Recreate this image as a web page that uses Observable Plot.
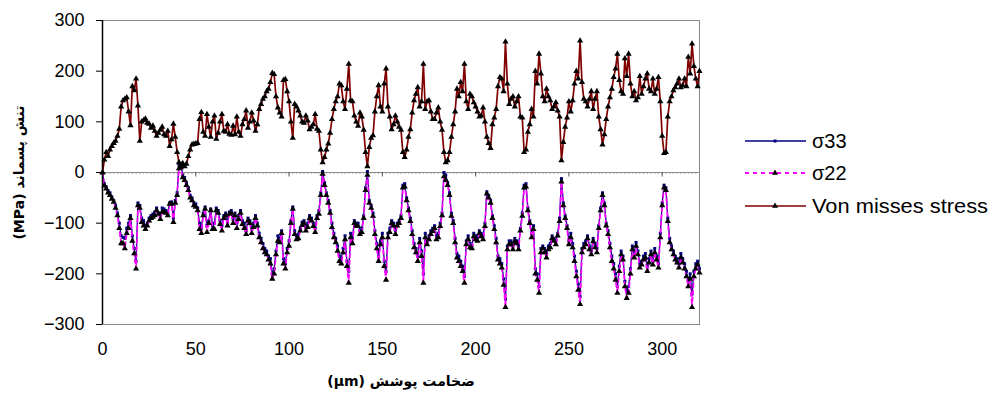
<!DOCTYPE html>
<html>
<head>
<meta charset="utf-8">
<script src="https://cdn.jsdelivr.net/npm/d3@7"></script>
<script src="https://cdn.jsdelivr.net/npm/@observablehq/plot@0.6"></script>
<style>
  html, body { margin: 0; padding: 0; background: #fff; }
  #wrap { position: relative; width: 993px; height: 400px; font-family: "Liberation Sans", Arial, "DejaVu Sans", sans-serif; }
  #legend { position: absolute; left: 740px; top: 120px; }
</style>
</head>
<body>
<div id="wrap"><div id="chart"></div><div id="legend"></div></div>
<script>
// thickness positions (µm), even readings
const thickness = [
  0,2,4,6,8,10,12,14,16,18,
  20,22,24,26,28,30,32,34,36,38,
  40,42,44,46,48,50,52,54,56,58,
  60,62,64,66,68,70,72,74,76,78,
  80,82,84,86,88,90,92,94,96,98,
  100,102,104,106,108,110,112,114,116,118,
  120,122,124,126,128,130,132,134,136,138,
  140,142,144,146,148,150,152,154,156,158,
  160,162,164,166,168,170,172,174,176,178,
  180,182,184,186,188,190,192,194,196,198,
  200,202,204,206,208,210,212,214,216,218,
  220,222,224,226,228,230,232,234,236,238,
  240,242,244,246,248,250,252,254,256,258,
  260,262,264,266,268,270,272,274,276,278,
  280,282,284,286,288,290,292,294,296,298,
  300,302,304,306,308,310,312,314,316,318,320
];
// σ33 (MPa)
const sigma33 = [
  0,-28,-40,-55,-80,-125,-130,-100,-125,-175,
  -65,-95,-100,-85,-78,-80,-70,-75,-60,-90,
  -40,18,-10,-30,-50,-62,-100,-80,-105,-72,
  -100,-75,-105,-80,-78,-92,-100,-75,-100,-90,
  -110,-85,-120,-140,-155,-170,-190,-125,-115,-180,
  -135,-68,-125,-110,-95,-100,-90,-110,-75,2,
  -40,-75,-120,-145,-170,-125,-195,-130,-100,-115,
  -85,2,-65,-115,-165,-120,-195,-110,-100,-100,
  -85,-22,-70,-115,-150,-130,-200,-135,-115,-105,
  -120,-80,-5,-40,-95,-160,-175,-205,-125,-145,
  -125,-115,-125,-38,-55,-105,-165,-180,-250,-135,
  -145,-135,-110,-25,-70,-120,-190,-225,-145,-160,
  -140,-130,-120,-12,-85,-135,-140,-195,-245,-140,
  -125,-155,-140,-105,-40,-100,-140,-180,-225,-155,
  -215,-225,-145,-138,-180,-165,-185,-155,-150,-180,
  -60,-30,-130,-155,-170,-160,-180,-215,-240,-180,-190
];
// σ22 (MPa)
const sigma22 = [
  0,-32,-45,-58,-85,-140,-150,-110,-135,-190,
  -70,-105,-105,-90,-85,-82,-78,-80,-62,-98,
  -45,10,-15,-35,-55,-68,-112,-85,-118,-75,
  -112,-80,-115,-85,-82,-100,-110,-80,-110,-95,
  -120,-90,-128,-150,-162,-180,-200,-135,-120,-190,
  -145,-72,-132,-115,-100,-108,-95,-118,-82,-3,
  -45,-80,-128,-155,-180,-132,-218,-140,-105,-122,
  -90,-5,-70,-122,-175,-128,-212,-118,-105,-105,
  -90,-28,-75,-122,-158,-138,-218,-142,-122,-110,
  -128,-85,-15,-45,-100,-168,-185,-218,-132,-150,
  -132,-120,-132,-42,-60,-112,-172,-188,-266,-142,
  -152,-140,-115,-30,-75,-128,-200,-238,-150,-168,
  -148,-135,-125,-18,-90,-142,-148,-205,-260,-148,
  -130,-162,-148,-110,-45,-105,-148,-190,-238,-162,
  -225,-238,-152,-145,-188,-172,-195,-162,-158,-188,
  -65,-35,-138,-162,-178,-168,-190,-225,-266,-190,-198
];
// Von Mises stress (MPa)
const vonMises = [
  0,40,45,58,72,130,145,120,170,185,
  62,103,98,88,82,78,90,72,52,96,
  40,15,12,32,55,57,105,80,115,70,
  112,78,115,80,76,92,110,72,105,88,
  118,82,125,145,160,178,194,128,110,184,
  140,68,130,112,98,102,90,115,82,20,
  45,78,125,150,172,125,214,140,100,118,
  84,12,68,120,172,120,205,110,95,100,
  84,30,70,118,155,130,214,140,120,105,
  128,84,20,40,95,165,178,214,125,150,
  130,110,128,70,48,108,170,185,258,135,
  150,140,110,40,80,125,200,234,150,165,
  142,130,122,24,90,140,142,200,260,145,
  130,160,145,110,55,105,148,188,234,160,
  225,234,150,142,190,170,195,160,155,188,
  72,40,140,162,175,168,185,228,254,185,200
];
// odd readings (µm)
const thicknessOdd = [
  1,3,5,7,9,11,13,15,17,19,
  21,23,25,27,29,31,33,35,37,39,
  41,43,45,47,49,51,53,55,57,59,
  61,63,65,67,69,71,73,75,77,79,
  81,83,85,87,89,91,93,95,97,99,
  101,103,105,107,109,111,113,115,117,119,
  121,123,125,127,129,131,133,135,137,139,
  141,143,145,147,149,151,153,155,157,159,
  161,163,165,167,169,171,173,175,177,179,
  181,183,185,187,189,191,193,195,197,199,
  201,203,205,207,209,211,213,215,217,219,
  221,223,225,227,229,231,233,235,237,239,
  241,243,245,247,249,251,253,255,257,259,
  261,263,265,267,269,271,273,275,277,279,
  281,283,285,287,289,291,293,295,297,299,
  301,303,305,307,309,311,313,315,317,319
];
const sigma33Odd = [
  -22,-36,-48,-65,-100,-128,-110,-85,-150,-60,
  -90,-105,-90,-82,-70,-85,-72,-80,-58,-55,
  15,-5,-20,-45,-60,-70,-110,-68,-95,-105,
  -70,-95,-85,-98,-75,-80,-85,-95,-115,-95,
  -100,-100,-130,-150,-165,-200,-155,-130,-170,-150,
  -95,-115,-122,-98,-108,-85,-100,-85,-40,-20,
  -55,-100,-130,-165,-150,-175,-120,-95,-100,-110,
  -30,-55,-80,-140,-135,-175,-120,-95,-115,-95,
  -25,-50,-90,-140,-165,-155,-120,-125,-110,-125,
  -100,0,-20,-80,-130,-165,-185,-135,-140,-120,
  -128,-120,-100,-45,-85,-130,-170,-210,-145,-135,
  -130,-145,-80,-22,-95,-105,-200,-150,-150,-145,
  -125,-135,-90,-60,-105,-120,-165,-220,-150,-135,
  -145,-130,-150,-70,-60,-115,-165,-200,-185,-165,
  -235,-190,-160,-155,-175,-160,-170,-175,-165,-120,
  -25,-90,-145,-165,-180,-170,-195,-200,-195,-175
];
const sigma22Odd = [
  -26,-40,-52,-70,-110,-140,-120,-90,-160,-65,
  -98,-112,-95,-88,-75,-92,-78,-85,-62,-60,
  8,-10,-25,-50,-65,-75,-120,-72,-100,-112,
  -75,-102,-90,-105,-80,-85,-92,-102,-122,-100,
  -108,-105,-138,-158,-172,-210,-162,-138,-180,-158,
  -100,-122,-130,-104,-115,-90,-106,-90,-45,-25,
  -60,-108,-138,-175,-158,-185,-128,-100,-106,-118,
  -35,-60,-86,-150,-142,-185,-128,-100,-122,-100,
  -30,-55,-96,-148,-175,-165,-128,-132,-116,-132,
  -106,-8,-25,-86,-138,-175,-195,-142,-148,-126,
  -135,-126,-106,-50,-90,-138,-180,-222,-152,-142,
  -136,-152,-86,-28,-100,-112,-212,-158,-158,-152,
  -130,-142,-96,-65,-110,-128,-175,-232,-158,-142,
  -152,-136,-158,-75,-65,-122,-175,-212,-195,-172,
  -248,-200,-168,-162,-182,-168,-178,-182,-172,-128,
  -30,-96,-152,-172,-188,-178,-205,-210,-205,-182
];
const vonMisesOdd = [
  25,32,52,62,86,142,148,93,162,132,
  100,106,96,92,72,84,75,82,65,70,
  20,18,17,45,56,58,119,72,90,100,
  66,100,82,95,74,75,80,95,122,100,
  102,95,135,150,165,196,150,118,182,160,
  100,135,122,100,112,85,95,86,45,30,
  57,105,140,175,140,165,142,112,92,110,
  40,50,73,150,130,175,130,85,112,90,
  40,45,85,142,168,140,125,142,105,118,
  100,40,24,70,120,150,160,140,155,138,
  120,112,100,58,95,125,188,160,175,145,
  130,150,108,45,95,110,175,195,140,150,
  125,138,110,60,108,120,175,185,178,140,
  145,125,160,85,75,130,165,205,182,155,
  190,175,160,148,155,185,165,185,165,140,
  38,110,150,168,185,172,170,195,210,170
];
const xTicks = [0, 50, 100, 150, 200, 250, 300];
const yTicks = [-300, -200, -100, 0, 100, 200, 300];
const seriesNames = ["σ33", "σ22", "Von misses stress"];
const yTitle = "(MPa) تنش پسماند";
const xTitle = "(µm) ضخامت پوشش";

const rows = [
  ...thickness.map((x, i) => ({x, s33: sigma33[i], s22: sigma22[i], vm: vonMises[i]})),
  ...thicknessOdd.map((x, i) => ({x, s33: sigma33Odd[i], s22: sigma22Odd[i], vm: vonMisesOdd[i]}))
].sort((a, b) => a.x - b.x);

const fontFam = '"Liberation Sans", Arial, "DejaVu Sans", sans-serif';
const titleFont = '"DejaVu Sans", "Liberation Sans", sans-serif';
const chart = Plot.plot({
  width: 993,
  height: 400,
  marginLeft: 102,
  marginRight: 294,
  marginTop: 20,
  marginBottom: 76,
  style: {fontFamily: fontFam, fontSize: "18px", color: "black", background: "white"},
  x: {domain: [0, 320]},
  y: {domain: [-300, 300]},
  marks: [
    Plot.frame({stroke: "#888888"}),
    Plot.ruleY([0], {stroke: "#888888"}),
    Plot.ruleX(thickness, {x: d => d, y1: 0, y2: -4, stroke: "#999999", strokeWidth: 0.8}),
    Plot.ruleX(xTicks, {x: d => d, y1: 0, y2: -9, stroke: "#555555"}),
    Plot.line(rows, {x: "x", y: "s33", stroke: "#000080", strokeWidth: 1.3}),
    Plot.dot(rows, {x: "x", y: "s33", symbol: "square", r: 1.7, fill: "#000080", stroke: "none"}),
    Plot.line(rows, {x: "x", y: "s22", stroke: "#ff00ff", strokeWidth: 1.7, strokeDasharray: "4,3"}),
    Plot.dot(rows, {x: "x", y: "s22", symbol: "triangle", r: 2.3, fill: "black", stroke: "none"}),
    Plot.line(rows, {x: "x", y: "vm", stroke: "#800000", strokeWidth: 1.7}),
    Plot.dot(rows, {x: "x", y: "vm", symbol: "triangle", r: 2.3, fill: "black", stroke: "none"}),
    Plot.ruleX([0], {stroke: "black", strokeWidth: 1.5}),
    Plot.axisY({ticks: yTicks, tickSize: 6, tickPadding: 12, label: null, fontSize: 18}),
    Plot.axisX({ticks: xTicks, tickSize: 0, tickPadding: 18, label: null, fontSize: 18}),
    Plot.text([yTitle], {frameAnchor: "left", textAnchor: "middle", lineAnchor: "middle", rotate: -90, dx: -83, fontWeight: "bold", fontSize: 14, fontFamily: titleFont}),
    Plot.text([xTitle], {frameAnchor: "bottom", textAnchor: "middle", lineAnchor: "middle", dy: 57, fontWeight: "bold", fontSize: 14, fontFamily: titleFont})
  ]
});
document.getElementById("chart").appendChild(chart);

// legend
const lg = d3.select("#legend").append("svg").attr("width", 253).attr("height", 110);
const rowY = [21, 53, 86];
const styles = [
  {stroke: "#000080", dash: null, sym: "square", fill: "#000080", size: 9},
  {stroke: "#ff00ff", dash: "4,4", sym: "triangle", fill: "black", size: 16},
  {stroke: "#800000", dash: null, sym: "triangle", fill: "black", size: 16}
];
seriesNames.forEach((name, i) => {
  const g = lg.append("g").attr("transform", `translate(0,${rowY[i]})`);
  g.append("line").attr("x1", 5).attr("x2", 66).attr("y1", 0).attr("y2", 0)
    .attr("stroke", styles[i].stroke).attr("stroke-width", i === 1 ? 2 : 1.6)
    .attr("stroke-dasharray", styles[i].dash);
  const sym = styles[i].sym === "square" ? d3.symbolSquare : d3.symbolTriangle;
  g.append("path").attr("d", d3.symbol(sym, styles[i].size)()).attr("transform", "translate(35,0)").attr("fill", styles[i].fill);
  const t = g.append("text").attr("x", 72).attr("y", 0).attr("dy", "0.36em")
    .attr("font-family", fontFam).attr("font-size", 20).attr("fill", "black").text(name);
  if (i === 2) t.attr("textLength", 176).attr("lengthAdjust", "spacingAndGlyphs");
});
</script>
</body>
</html>
